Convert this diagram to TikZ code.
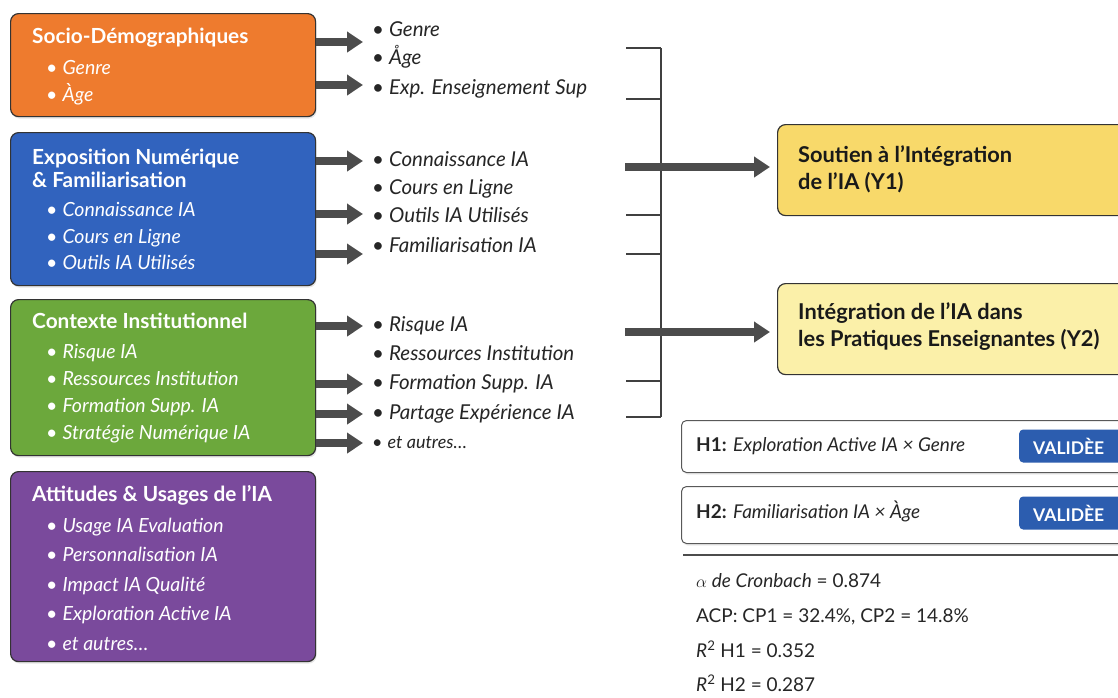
\documentclass[tikz,border=0pt]{standalone}
\usepackage{fontspec}
\setmainfont{Lato}
\usetikzlibrary{arrows.meta, positioning, shadows}
\definecolor{orangebox}{HTML}{EE7B2E}
\definecolor{bluebox}{HTML}{3163BE}
\definecolor{greenbox}{HTML}{6CA83C}
\definecolor{purplebox}{HTML}{7A4A9C}
\definecolor{yellowone}{HTML}{F8D96A}
\definecolor{yellowtwo}{HTML}{FBF0A9}
\definecolor{badgeblue}{HTML}{2C5DAF}
\newcommand{\puce}{{\upshape\textbullet}\hspace{5pt}}
\tikzstyle{categorie} = [draw=black!80, line width=1.2pt, rounded corners=8pt, anchor=north west, minimum width=305pt, drop shadow={opacity=0.2, shadow xshift=1pt, shadow yshift=-2pt}]
\tikzstyle{titre} = [anchor=west, inner sep=0pt, text=white, align=left, font=\fontsize{20.8}{23}\selectfont\bfseries]
\tikzstyle{puceitem} = [anchor=west, inner sep=0pt, text height=14pt, text depth=4pt, text=white, font=\fontsize{19.5}{20}\selectfont\itshape]
\tikzstyle{puceliste} = [anchor=west, inner sep=0pt, text height=14pt, text depth=4pt, text=black!85, font=\fontsize{20.5}{20}\selectfont\itshape]
\tikzstyle{fleche} = [draw=black!70, line width=7.5pt, -{Triangle[length=16pt,width=20pt]}, shorten >=9pt]
\tikzstyle{crochet} = [draw=black!75, line width=1.1pt]
\tikzstyle{resultat} = [draw=black!80, line width=1.2pt, rounded corners=8pt, anchor=north west, minimum width=360pt, minimum height=91pt]
\tikzstyle{resultattexte} = [anchor=west, inner sep=0pt, text=black!90, align=left, font=\fontsize{21.8}{27}\selectfont\bfseries]
\tikzstyle{hypothese} = [draw=black!65, line width=1pt, rounded corners=5pt, anchor=north west, minimum width=450pt, fill=white, drop shadow={opacity=0.15, shadow xshift=1pt, shadow yshift=-2pt}]
\tikzstyle{hypotexte} = [anchor=west, inner sep=0pt, text height=14pt, text depth=4pt, text=black!85, font=\fontsize{19}{20}\selectfont]
\tikzstyle{badge} = [anchor=west, fill=badgeblue, rounded corners=4pt, text=white, font=\fontsize{17.5}{18}\selectfont\bfseries, minimum height=33pt, text width=82pt, inner xsep=14pt, align=left]
\tikzstyle{statligne} = [anchor=west, inner sep=0pt, text height=14pt, text depth=4pt, text=black!85, font=\fontsize{19}{20}\selectfont]

\begin{document}
\begin{tikzpicture}[x=1pt, y=-1pt]
	\useasboundingbox (0,0) rectangle (1118,697);
	\clip (0,0) rectangle (1118,697);
	\fill[white] (0,0) rectangle (1118,697);

	\node [categorie, fill=orangebox, minimum height=103pt] (socio) at (10,13) {};
	\node [titre] at (32,38) {Socio-Démographiques};
	\node [puceitem] at (46,69) {\puce Genre};
	\node [puceitem] at (46,96) {\puce Àge};

	\node [categorie, fill=bluebox, minimum height=153pt] (expo) at (10,132) {};
	\node [titre] at (32,168.5) {Exposition Numérique\\\& Familiarisation};
	\node [puceitem] at (46,211) {\puce Connaissance IA};
	\node [puceitem] at (46,238) {\puce Cours en Ligne};
	\node [puceitem] at (46,264) {\puce Outils IA Utilisés};

	\node [categorie, fill=greenbox, minimum height=156pt] (contexte) at (10,299) {};
	\node [titre] at (32,321) {Contexte Institutionnel};
	\node [puceitem] at (46,353) {\puce Risque IA};
	\node [puceitem] at (46,380) {\puce Ressources Institution};
	\node [puceitem] at (46,407) {\puce Formation Supp. IA};
	\node [puceitem] at (46,434) {\puce Stratégie Numérique IA};

	\node [categorie, fill=purplebox, minimum height=190pt] (attitudes) at (10,471) {};
	\node [titre] at (32,495) {Attitudes \& Usages de l’IA};
	\node [puceitem] at (46,527) {\puce Usage IA Evaluation};
	\node [puceitem] at (46,556) {\puce Personnalisation IA};
	\node [puceitem] at (46,586) {\puce Impact IA Qualité};
	\node [puceitem] at (46,615) {\puce Exploration Active IA};
	\node [puceitem] at (46,645) {\puce et autres…};

	\node [puceliste] (genre) at (372,31) {\puce Genre};
	\node [puceliste] (age) at (372,59) {\puce Åge};
	\node [puceliste] (exp) at (372,89) {\puce Exp. Enseignement Sup};
	\node [puceliste] (connaissance) at (372,161) {\puce Connaissance IA};
	\node [puceliste] (cours) at (372,189) {\puce Cours en Ligne};
	\node [puceliste] (outils) at (372,217) {\puce Outils IA Utilisés};
	\node [puceliste] (familiarisation) at (372,247) {\puce Familiarisation IA};
	\node [puceliste] (risque) at (372,326) {\puce Risque IA};
	\node [puceliste] (ressources) at (372,355) {\puce Ressources Institution};
	\node [puceliste] (formation) at (372,384) {\puce Formation Supp. IA};
	\node [puceliste] (partage) at (372,414) {\puce Partage Expérience IA};
	\node [puceliste, font=\fontsize{18}{20}\selectfont\itshape] (autres) at (372,443) {\puce et autres…};

	\draw [fleche] ([yshift=-11pt]genre.west -| socio.east) -- ([yshift=-11pt]genre.west);
	\draw [fleche] ([yshift=4pt]exp.west -| socio.east) -- ([yshift=4pt]exp.west);
	\draw [fleche] (connaissance.west -| expo.east) -- (connaissance.west);
	\draw [fleche] ([yshift=3pt]outils.west -| expo.east) -- ([yshift=3pt]outils.west);
	\draw [fleche] ([yshift=-7pt]familiarisation.west -| expo.east) -- ([yshift=-7pt]familiarisation.west);
	\draw [fleche] (risque.west -| contexte.east) -- (risque.west);
	\draw [fleche] (formation.west -| contexte.east) -- (formation.west);
	\draw [fleche] (partage.west -| contexte.east) -- (partage.west);
	\draw [fleche] (autres.west -| contexte.east) -- (autres.west);

	\node [resultat, fill=yellowone] (y1) at (777,124) {};
	\node [resultattexte] at (798,169.5) {Soutien à l’Intégration\\de l’IA (Y1)};
	\node [resultat, fill=yellowtwo] (y2) at (777,283) {};
	\node [resultattexte] at (798,327) {Intégration de l’IA dans\\les Pratiques Enseignantes (Y2)};

	\coordinate (haut) at (661,48);
	\coordinate (bas) at (661,417);
	\draw [crochet] (haut) -- (bas);
	\foreach \y in {48,99,215,254,381,417}
		\draw [crochet] (626,\y) -- (661,\y);
	\coordinate (j1) at (625,167);
	\coordinate (j2) at (625,332);
	\draw [fleche, shorten >=7pt] (j1) -- (j1 -| y1.west);
	\draw [fleche, shorten >=7pt] (j2) -- (j2 -| y2.west);

	\node [hypothese, minimum height=52pt] (h1) at (681,420) {};
	\node [hypotexte] at (696,446) {\textbf{H1:} \textit{Exploration Active IA × Genre}};
	\node [badge] (v1) at (1019,446) {VALIDÈE};
	\node [hypothese, minimum height=57pt] (h2) at (681,486) {};
	\node [hypotexte] at (696,513) {\textbf{H2:} \textit{Familiarisation IA × Àge}};
	\node [badge] (v2) at (1019,513) {VALIDÈE};

	\draw [draw=black!70, line width=1.2pt] (683,555) -- (1118,555);
	\node [statligne] (alpha) at (696,582) {$\alpha$ \textit{de Cronbach} = 0.874};
	\node [statligne] (acp) at (696,617) {ACP: CP1 = 32.4\%, CP2 = 14.8\%};
	\node [statligne] (r1) at (696,652) {\textit{R}\textsuperscript{2} H1 = 0.352};
	\node [statligne] (r2) at (696,686) {\textit{R}\textsuperscript{2} H2 = 0.287};
\end{tikzpicture}
\end{document}
